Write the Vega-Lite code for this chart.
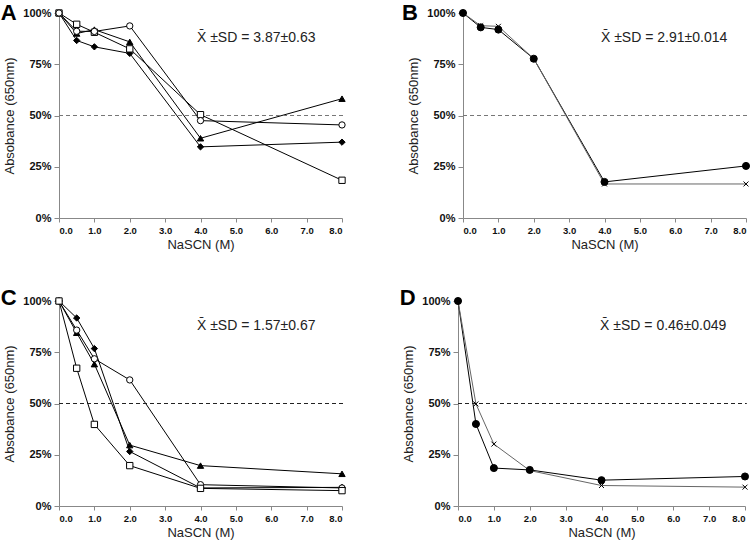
{
  "$schema": "https://vega.github.io/schema/vega-lite/v6.json",
  "padding": {"left": 0, "top": 2, "right": 2, "bottom": 0},
  "background": "white",
  "datasets": {
    "d": [
      {"panel":"A","series":"D","x":0,"y":100},{"panel":"A","series":"D","x":0.5,"y":86.6},{"panel":"A","series":"D","x":1,"y":83.5},{"panel":"A","series":"D","x":2,"y":80.3},{"panel":"A","series":"D","x":4,"y":34.7},{"panel":"A","series":"D","x":8,"y":37.0},
      {"panel":"A","series":"T","x":0,"y":100},{"panel":"A","series":"T","x":0.5,"y":90.0},{"panel":"A","series":"T","x":1,"y":91.9},{"panel":"A","series":"T","x":2,"y":85.9},{"panel":"A","series":"T","x":4,"y":38.9},{"panel":"A","series":"T","x":8,"y":58.2},
      {"panel":"A","series":"S","x":0,"y":100},{"panel":"A","series":"S","x":0.5,"y":94.5},{"panel":"A","series":"S","x":1,"y":90.6},{"panel":"A","series":"S","x":2,"y":82.5},{"panel":"A","series":"S","x":4,"y":50.4},{"panel":"A","series":"S","x":8,"y":18.4},
      {"panel":"A","series":"O","x":0,"y":100},{"panel":"A","series":"O","x":0.5,"y":91.1},{"panel":"A","series":"O","x":1,"y":91.0},{"panel":"A","series":"O","x":2,"y":93.7},{"panel":"A","series":"O","x":4,"y":47.5},{"panel":"A","series":"O","x":8,"y":45.4},
      {"panel":"B","series":"F","x":0,"y":100},{"panel":"B","series":"F","x":0.5,"y":93.0},{"panel":"B","series":"F","x":1,"y":91.9},{"panel":"B","series":"F","x":2,"y":77.7},{"panel":"B","series":"F","x":4,"y":17.6},{"panel":"B","series":"F","x":8,"y":25.4},
      {"panel":"B","series":"X","x":0,"y":100},{"panel":"B","series":"X","x":0.5,"y":93.8},{"panel":"B","series":"X","x":1,"y":93.5},{"panel":"B","series":"X","x":2,"y":77.7},{"panel":"B","series":"X","x":4,"y":16.6},{"panel":"B","series":"X","x":8,"y":16.6},
      {"panel":"C","series":"D","x":0,"y":100},{"panel":"C","series":"D","x":0.5,"y":91.7},{"panel":"C","series":"D","x":1,"y":76.8},{"panel":"C","series":"D","x":2,"y":26.6},{"panel":"C","series":"D","x":4,"y":8.8},{"panel":"C","series":"D","x":8,"y":9.1},
      {"panel":"C","series":"T","x":0,"y":100},{"panel":"C","series":"T","x":0.5,"y":84.5},{"panel":"C","series":"T","x":1,"y":69.2},{"panel":"C","series":"T","x":2,"y":29.7},{"panel":"C","series":"T","x":4,"y":19.7},{"panel":"C","series":"T","x":8,"y":15.7},
      {"panel":"C","series":"O","x":0,"y":100},{"panel":"C","series":"O","x":0.5,"y":85.8},{"panel":"C","series":"O","x":1,"y":71.8},{"panel":"C","series":"O","x":2,"y":61.5},{"panel":"C","series":"O","x":4,"y":10.4},{"panel":"C","series":"O","x":8,"y":8.8},
      {"panel":"C","series":"S","x":0,"y":100},{"panel":"C","series":"S","x":0.5,"y":67.2},{"panel":"C","series":"S","x":1,"y":39.8},{"panel":"C","series":"S","x":2,"y":19.7},{"panel":"C","series":"S","x":4,"y":8.6},{"panel":"C","series":"S","x":8,"y":7.5},
      {"panel":"D","series":"F","x":0,"y":100},{"panel":"D","series":"F","x":0.5,"y":40.0},{"panel":"D","series":"F","x":1,"y":18.5},{"panel":"D","series":"F","x":2,"y":17.6},{"panel":"D","series":"F","x":4,"y":12.6},{"panel":"D","series":"F","x":8,"y":14.4},
      {"panel":"D","series":"X","x":0,"y":100},{"panel":"D","series":"X","x":0.5,"y":49.8},{"panel":"D","series":"X","x":1,"y":30.2},{"panel":"D","series":"X","x":2,"y":17.3},{"panel":"D","series":"X","x":4,"y":10.0},{"panel":"D","series":"X","x":8,"y":9.2}
    ],
    "notes": [
      {"panel":"A","letter":"A","label":"X\u0304 \u00b1SD = 3.87\u00b10.63"},
      {"panel":"B","letter":"B","label":"X\u0304 \u00b1SD = 2.91\u00b10.014"},
      {"panel":"C","letter":"C","label":"X\u0304 \u00b1SD = 1.57\u00b10.67"},
      {"panel":"D","letter":"D","label":"X\u0304 \u00b1SD = 0.46\u00b10.049"}
    ]
  },
  "config": {
    "view": {"stroke": null},
    "font": "Liberation Sans",
    "axis": {"grid": false, "domainColor": "#888", "tickColor": "#888", "titleFont": "Liberation Sans", "titleFontWeight": "normal", "titleFontSize": 13, "titleColor": "#222", "labelColor": "#111", "labelFontWeight": "bold", "labelFont": "Liberation Sans"},
    "axisX": {"labelFontSize": 9.5, "tickSize": 4, "labelPadding": 3, "titlePadding": 4, "labelOverlap": false, "tickCount": 20},
    "axisY": {"labelFontSize": 11, "tickSize": 5, "labelPadding": 3, "titlePadding": 6, "tickCount": 20},
    "concat": {"spacing": 53}
  },
  "vconcat": [
    {"hconcat": [
      {"width": 283, "height": 205,
       "layer": [
        {"data": {"name": "d"}, "transform": [{"filter": "datum.panel === 'A'"}], "mark": {"type": "line", "strokeWidth": 1}, "encoding": {"x": {"field": "x", "type": "quantitative", "scale": {"domain": [0, 8], "nice": false}, "axis": {"title": "NaSCN (M)", "values": [0,1,2,3,4,5,6,7,8], "tickCount": 20}}, "y": {"field": "y", "type": "quantitative", "scale": {"domain": [0, 100], "nice": false}, "axis": {"title": "Absobance (650nm)", "values": [0,25,50,75,100], "tickCount": 20, "labelExpr": "datum.value + '%'"}}, "detail": {"field": "series"}, "color": {"field": "series", "scale": {"domain": ["D","T","S","O","F","X"], "range": ["black","black","black","black","black","#666"]}, "legend": null}}},
        {"data": {"values": [{"v": 50}]}, "mark": {"type": "rule", "strokeDash": [4, 3], "color": "#777", "strokeWidth": 1.2}, "encoding": {"x": {"datum": 0}, "x2": {"datum": 8.05}, "y": {"datum": 50}}},
        {"data": {"name": "d"}, "transform": [{"filter": "datum.panel === 'A'"}], "mark": {"type": "point", "stroke": "black", "strokeWidth": 1, "opacity": 1, "size": 40}, "encoding": {"x": {"field": "x", "type": "quantitative"}, "y": {"field": "y", "type": "quantitative"}, "shape": {"field": "series", "scale": {"domain": ["D","T","S","O","F","X"], "range": ["diamond","triangle-up","square","circle","circle","M-0.7,-0.7L0.7,0.7M-0.7,0.7L0.7,-0.7"]}, "legend": null}, "fill": {"field": "series", "scale": {"domain": ["D","T","S","O","F","X"], "range": ["black","black","white","white","black","transparent"]}, "legend": null}}},
        {"data": {"name": "notes"}, "transform": [{"filter": "datum.panel === 'A'"}], "mark": {"type": "text", "align": "left", "baseline": "middle", "fontSize": 14, "color": "#222"}, "encoding": {"x": {"datum": 3.9}, "y": {"datum": 88}, "text": {"field": "label"}}},
        {"data": {"name": "notes"}, "transform": [{"filter": "datum.panel === 'A'"}], "mark": {"type": "text", "align": "center", "baseline": "middle", "fontSize": 22, "fontWeight": "bold", "color": "black"}, "encoding": {"x": {"datum": -1.42}, "y": {"datum": 100}, "text": {"field": "letter"}}}
       ]
      },
      {"width": 283, "height": 205,
       "layer": [
        {"data": {"name": "d"}, "transform": [{"filter": "datum.panel === 'B'"}], "mark": {"type": "line", "strokeWidth": 1}, "encoding": {"x": {"field": "x", "type": "quantitative", "scale": {"domain": [0, 8], "nice": false}, "axis": {"title": "NaSCN (M)", "values": [0,1,2,3,4,5,6,7,8], "tickCount": 20}}, "y": {"field": "y", "type": "quantitative", "scale": {"domain": [0, 100], "nice": false}, "axis": {"title": "Absobance (650nm)", "values": [0,25,50,75,100], "tickCount": 20, "labelExpr": "datum.value + '%'"}}, "detail": {"field": "series"}, "color": {"field": "series", "scale": {"domain": ["D","T","S","O","F","X"], "range": ["black","black","black","black","black","#666"]}, "legend": null}}},
        {"data": {"values": [{"v": 50}]}, "mark": {"type": "rule", "strokeDash": [4, 3], "color": "#777", "strokeWidth": 1.2}, "encoding": {"x": {"datum": 0}, "x2": {"datum": 8.05}, "y": {"datum": 50}}},
        {"data": {"name": "d"}, "transform": [{"filter": "datum.panel === 'B'"}], "mark": {"type": "point", "stroke": "black", "strokeWidth": 1, "opacity": 1, "size": 50}, "encoding": {"x": {"field": "x", "type": "quantitative"}, "y": {"field": "y", "type": "quantitative"}, "shape": {"field": "series", "scale": {"domain": ["D","T","S","O","F","X"], "range": ["diamond","triangle-up","square","circle","circle","M-0.7,-0.7L0.7,0.7M-0.7,0.7L0.7,-0.7"]}, "legend": null}, "fill": {"field": "series", "scale": {"domain": ["D","T","S","O","F","X"], "range": ["black","black","white","white","black","transparent"]}, "legend": null}}},
        {"data": {"name": "notes"}, "transform": [{"filter": "datum.panel === 'B'"}], "mark": {"type": "text", "align": "left", "baseline": "middle", "fontSize": 14, "color": "#222"}, "encoding": {"x": {"datum": 3.9}, "y": {"datum": 88}, "text": {"field": "label"}}},
        {"data": {"name": "notes"}, "transform": [{"filter": "datum.panel === 'B'"}], "mark": {"type": "text", "align": "center", "baseline": "middle", "fontSize": 22, "fontWeight": "bold", "color": "black"}, "encoding": {"x": {"datum": -1.5}, "y": {"datum": 100}, "text": {"field": "letter"}}}
       ]
      }
    ]},
    {"hconcat": [
      {"width": 283, "height": 205,
       "layer": [
        {"data": {"name": "d"}, "transform": [{"filter": "datum.panel === 'C'"}], "mark": {"type": "line", "strokeWidth": 1}, "encoding": {"x": {"field": "x", "type": "quantitative", "scale": {"domain": [0, 8], "nice": false}, "axis": {"title": "NaSCN (M)", "values": [0,1,2,3,4,5,6,7,8], "tickCount": 20}}, "y": {"field": "y", "type": "quantitative", "scale": {"domain": [0, 100], "nice": false}, "axis": {"title": "Absobance (650nm)", "values": [0,25,50,75,100], "tickCount": 20, "labelExpr": "datum.value + '%'"}}, "detail": {"field": "series"}, "color": {"field": "series", "scale": {"domain": ["D","T","S","O","F","X"], "range": ["black","black","black","black","black","#666"]}, "legend": null}}},
        {"data": {"values": [{"v": 50}]}, "mark": {"type": "rule", "strokeDash": [4, 3], "color": "#222", "strokeWidth": 1.2}, "encoding": {"x": {"datum": 0}, "x2": {"datum": 8.05}, "y": {"datum": 50}}},
        {"data": {"name": "d"}, "transform": [{"filter": "datum.panel === 'C'"}], "mark": {"type": "point", "stroke": "black", "strokeWidth": 1, "opacity": 1, "size": 40}, "encoding": {"x": {"field": "x", "type": "quantitative"}, "y": {"field": "y", "type": "quantitative"}, "shape": {"field": "series", "scale": {"domain": ["D","T","S","O","F","X"], "range": ["diamond","triangle-up","square","circle","circle","M-0.7,-0.7L0.7,0.7M-0.7,0.7L0.7,-0.7"]}, "legend": null}, "fill": {"field": "series", "scale": {"domain": ["D","T","S","O","F","X"], "range": ["black","black","white","white","black","transparent"]}, "legend": null}}},
        {"data": {"name": "notes"}, "transform": [{"filter": "datum.panel === 'C'"}], "mark": {"type": "text", "align": "left", "baseline": "middle", "fontSize": 14, "color": "#222"}, "encoding": {"x": {"datum": 3.9}, "y": {"datum": 88}, "text": {"field": "label"}}},
        {"data": {"name": "notes"}, "transform": [{"filter": "datum.panel === 'C'"}], "mark": {"type": "text", "align": "center", "baseline": "middle", "fontSize": 22, "fontWeight": "bold", "color": "black"}, "encoding": {"x": {"datum": -1.42}, "y": {"datum": 101.5}, "text": {"field": "letter"}}}
       ]
      },
      {"width": 287, "height": 205,
       "layer": [
        {"data": {"name": "d"}, "transform": [{"filter": "datum.panel === 'D'"}], "mark": {"type": "line", "strokeWidth": 1}, "encoding": {"x": {"field": "x", "type": "quantitative", "scale": {"domain": [0, 8], "nice": false}, "axis": {"title": "NaSCN (M)", "values": [0,1,2,3,4,5,6,7,8], "tickCount": 20}}, "y": {"field": "y", "type": "quantitative", "scale": {"domain": [0, 100], "nice": false}, "axis": {"title": "Absobance (650nm)", "values": [0,25,50,75,100], "tickCount": 20, "labelExpr": "datum.value + '%'"}}, "detail": {"field": "series"}, "color": {"field": "series", "scale": {"domain": ["D","T","S","O","F","X"], "range": ["black","black","black","black","black","#666"]}, "legend": null}}},
        {"data": {"values": [{"v": 50}]}, "mark": {"type": "rule", "strokeDash": [4, 3], "color": "#222", "strokeWidth": 1.2}, "encoding": {"x": {"datum": 0}, "x2": {"datum": 8.05}, "y": {"datum": 50}}},
        {"data": {"name": "d"}, "transform": [{"filter": "datum.panel === 'D'"}], "mark": {"type": "point", "stroke": "black", "strokeWidth": 1, "opacity": 1, "size": 50}, "encoding": {"x": {"field": "x", "type": "quantitative"}, "y": {"field": "y", "type": "quantitative"}, "shape": {"field": "series", "scale": {"domain": ["D","T","S","O","F","X"], "range": ["diamond","triangle-up","square","circle","circle","M-0.7,-0.7L0.7,0.7M-0.7,0.7L0.7,-0.7"]}, "legend": null}, "fill": {"field": "series", "scale": {"domain": ["D","T","S","O","F","X"], "range": ["black","black","white","white","black","transparent"]}, "legend": null}}},
        {"data": {"name": "notes"}, "transform": [{"filter": "datum.panel === 'D'"}], "mark": {"type": "text", "align": "left", "baseline": "middle", "fontSize": 14, "color": "#222"}, "encoding": {"x": {"datum": 3.96}, "y": {"datum": 88}, "text": {"field": "label"}}},
        {"data": {"name": "notes"}, "transform": [{"filter": "datum.panel === 'D'"}], "mark": {"type": "text", "align": "center", "baseline": "middle", "fontSize": 22, "fontWeight": "bold", "color": "black"}, "encoding": {"x": {"datum": -1.4}, "y": {"datum": 101.5}, "text": {"field": "letter"}}}
       ]
      }
    ], "spacing": 51}
  ],
  "spacing": 34
}
